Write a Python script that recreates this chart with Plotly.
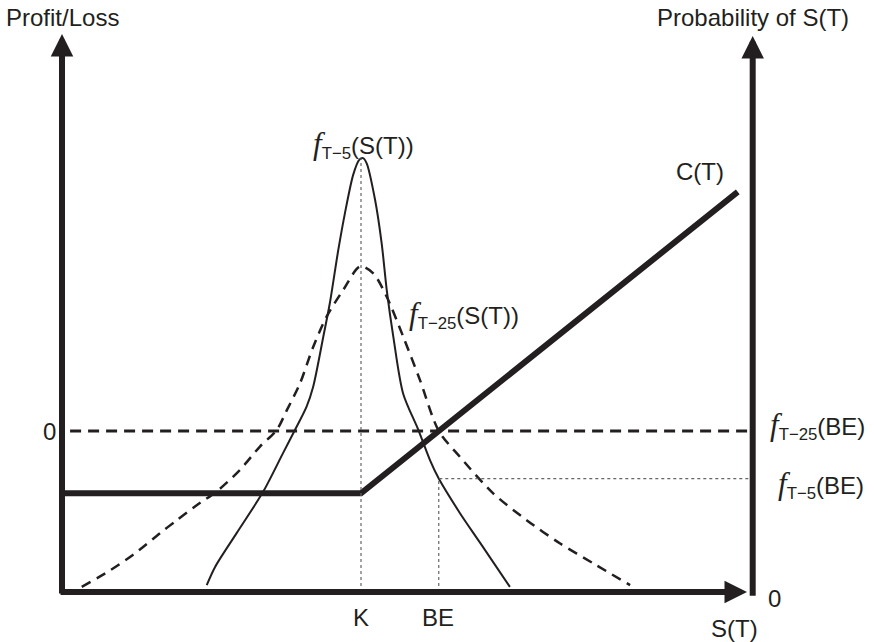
import numpy as np
import plotly.graph_objects as go

# ---- option data -------------------------------------------------------
K = 100.0            # strike
PREMIUM = 26.0       # call premium
BE = K + PREMIUM     # break-even price
S_MAX = 226.0        # last S(T) drawn for the payoff line

# payoff line C(T) breakpoints
PAY_S = [0.0, K, S_MAX]

# density of S(T) five days before expiry
F5_S = [48.4, 51.2, 58.4, 67.3, 74.0, 77.9, 81.8, 84.0, 87.4, 89.6, 92.4, 94.6,
        97.4, 99.4, 100.7, 101.9, 104.7, 106.9, 108.6, 110.8, 114.1, 119.2,
        123.1, 126.0, 133.1, 139.8, 149.8]
F5_D = [0.0008, 0.0029, 0.0068, 0.0116, 0.0161, 0.0187, 0.0214, 0.0237, 0.0295,
        0.0334, 0.0395, 0.0437, 0.0482, 0.0499, 0.0501, 0.0495, 0.0453, 0.0403,
        0.0349, 0.0295, 0.0229, 0.0187, 0.0152, 0.0131, 0.0091, 0.0057, 0.0006]

# density of S(T) twenty-five days before expiry
F25_S = [6.6, 16.1, 23.8, 32.8, 38.4, 46.2, 51.7, 59.5, 66.2, 71.8, 75.2, 79.6,
         84.0, 88.5, 94.1, 99.7, 104.1, 108.6, 114.1, 119.7, 126.0, 133.1, 144.2,
         155.4, 166.6, 177.7, 190.0]
F25_D = [0.0006, 0.0025, 0.0043, 0.0068, 0.0083, 0.0103, 0.0116, 0.0141, 0.0168,
         0.0187, 0.0210, 0.0241, 0.0283, 0.0318, 0.0349, 0.0376, 0.0368, 0.0341,
         0.0295, 0.0245, 0.0186, 0.0156, 0.0114, 0.0083, 0.0056, 0.0033, 0.0008]

F5_BE = 0.0131       # f_{T-5}(BE)
F25_BE = 0.0186      # f_{T-25}(BE)

# ---- frame geometry (axis units) ----------------------------------------
X_RANGE = [-20.74, 271.57]
PL_RANGE = [-88.2, 180.2]
PR_RANGE = [-0.00577, 0.06836]
S_LEFT, S_RIGHT = 0.0, 231.0
PL_AXIS_BOTTOM = -67.3     # P/L value level with probability 0
PL_TOP = 166.0
ZERO_START = 2.7

INK = "#231f20"
SANS = "Liberation Sans, Arial, sans-serif"
FS = 24


def f_label(sub, arg):
    return ('<i><span style="font-family:Liberation Serif;font-size:31px">f</span></i>'
            f'<sub>{sub}</sub>({arg})')


pay_s = np.array(PAY_S)
pay_pl = np.maximum(pay_s - K, 0.0) - PREMIUM

fig = go.Figure()

# P/L zero line
fig.add_trace(go.Scatter(x=[ZERO_START, S_RIGHT], y=[0, 0], mode="lines",
                         line=dict(color=INK, width=3, dash="11px,7px"),
                         hoverinfo="skip"))

# densities on the probability axis
fig.add_trace(go.Scatter(x=F25_S, y=F25_D, yaxis="y2", mode="lines",
                         line=dict(color=INK, width=2.5, dash="10px,7px",
                                   shape="spline", smoothing=0.8),
                         hoverinfo="skip"))
fig.add_trace(go.Scatter(x=F5_S, y=F5_D, yaxis="y2", mode="lines",
                         line=dict(color=INK, width=2, shape="spline", smoothing=0.8),
                         hoverinfo="skip"))

# dotted guides at K and BE
dot = dict(color="#666666", width=1.2, dash="dot")
fig.add_trace(go.Scatter(x=[K, K], y=[0, max(F5_D)], yaxis="y2", mode="lines",
                         line=dot, hoverinfo="skip"))
fig.add_trace(go.Scatter(x=[BE, BE, S_RIGHT], y=[0, F5_BE, F5_BE], yaxis="y2",
                         mode="lines", line=dot, hoverinfo="skip"))

# payoff C(T)
fig.add_trace(go.Scatter(x=pay_s, y=pay_pl, mode="lines",
                         line=dict(color=INK, width=6), hoverinfo="skip"))

annotations = []


def arrow(x, y, ax, ay, yref):
    annotations.append(dict(x=x, y=y, ax=ax, ay=ay, xref="x", yref=yref,
                            axref="x", ayref=yref, text="", showarrow=True,
                            arrowhead=2, arrowsize=0.75, arrowwidth=6,
                            arrowcolor=INK, standoff=0))


# axes with arrowheads
arrow(S_LEFT, PL_TOP, S_LEFT, PL_AXIS_BOTTOM - 1.3, "y")
arrow(229.1, 0, S_LEFT - 1.0, 0, "y2")
arrow(S_RIGHT, PL_TOP - 0.8, S_RIGHT, PL_AXIS_BOTTOM - 2.2, "y")


def label(text, x, y, yref="y", xanchor="center", yanchor="middle",
          xshift=0, yshift=0, size=FS):
    annotations.append(dict(text=text, x=x, y=y, xref="x", yref=yref,
                            xanchor=xanchor, yanchor=yanchor, showarrow=False,
                            xshift=xshift, yshift=yshift,
                            font=dict(family=SANS, size=size, color=INK)))


label("Profit/Loss", S_LEFT, 172.7)
label("Probability of S(T)", S_RIGHT, 172.7)
label("0", S_LEFT, 0, xshift=-13)
label("0", S_RIGHT, 0, yref="y2", xshift=22, yshift=-6)
label("K", K, 0, yref="y2", yshift=-25)
label("BE", BE, 0, yref="y2", xshift=-1, yshift=-25)
label("S(T)", S_RIGHT, 0, yref="y2", xshift=-18, yshift=-36)
label("C(T)", S_MAX, pay_pl[-1], xshift=-38, yshift=20)
label(f_label("T−5", "S(T)"), K, max(F5_D), yref="y2", xshift=2, yshift=14)
label(f_label("T−25", "S(T)"), 133.8, 0.0320, yref="y2", xshift=2)
label(f_label("T−25", "BE"), S_RIGHT, F25_BE, yref="y2", xanchor="left",
      xshift=15, yshift=5)
label(f_label("T−5", "BE"), S_RIGHT, F5_BE, yref="y2", xanchor="left",
      xshift=23, yshift=-6)

fig.update_layout(
    width=874, height=642, autosize=False,
    margin=dict(l=0, r=0, t=0, b=0),
    paper_bgcolor="white", plot_bgcolor="white",
    showlegend=False,
    xaxis=dict(range=X_RANGE, visible=False, fixedrange=True),
    yaxis=dict(range=PL_RANGE, visible=False, fixedrange=True),
    yaxis2=dict(range=PR_RANGE, visible=False, overlaying="y", fixedrange=True),
    annotations=annotations,
)

fig.write_html("out.html")
